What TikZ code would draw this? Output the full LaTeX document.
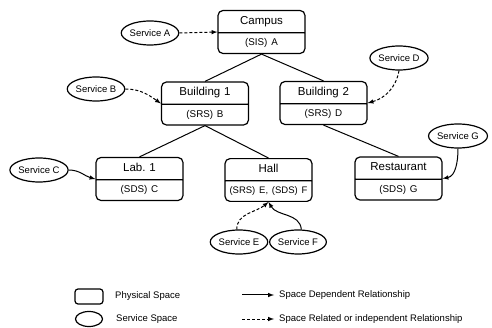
\documentclass[tikz,border=0pt]{standalone}
\usepackage{fontspec}
\setmainfont{Liberation Sans}
\usepackage{tikz}
\usetikzlibrary{shapes.geometric}
\usetikzlibrary{shapes.multipart}
\usetikzlibrary{arrows}
\usetikzlibrary{positioning}
\tikzstyle{spaceblock} = [rectangle split, rectangle split parts=2, rounded corners=5pt, draw=black,
line width=1.2pt, text width=83pt, align=center, inner xsep=2pt, inner ysep=5.25pt, text height=8pt,
text depth=2.5pt, font=\fontsize{11.5}{13}\selectfont]
\tikzstyle{serviceblock} = [ellipse, draw=black, line width=1.2pt, minimum width=53pt, minimum height=24pt,
inner sep=0pt, font=\fontsize{9.5}{11}\selectfont]
\tikzstyle{tree} = [line width=1pt]
\tikzstyle{arrow} = [line width=1pt,->,>=latex]
\tikzstyle{dasharrow} = [arrow, dash pattern=on 3pt off 2pt]
\tikzstyle{legendtext} = [anchor=west, inner sep=0pt, font=\fontsize{9.5}{11}\selectfont]

\begin{document}
\begin{tikzpicture}[x=1pt,y=-1pt]
  \useasboundingbox (0,0) rectangle (492,328);
  % physical spaces
  \node (campus) [spaceblock] at (261.5,32) {Campus \nodepart{two} \fontsize{9.8}{11}\selectfont (SIS) A};
  \node (bldg1) [spaceblock] at (205,103.5) {Building 1 \nodepart{two} \fontsize{9.8}{11}\selectfont (SRS) B};
  \node (bldg2) [spaceblock] at (323.5,103) {Building 2 \nodepart{two} \fontsize{9.8}{11}\selectfont (SRS) D};
  \node (lab1) [spaceblock] at (139.5,179) {Lab.\ 1 \nodepart{two} \fontsize{9.8}{11}\selectfont (SDS) C};
  \node (hall) [spaceblock] at (268.5,180) {Hall \nodepart{two} \fontsize{9.5}{11}\selectfont (SRS) E, (SDS) F};
  \node (rest) [spaceblock] at (398.5,178.5) {Restaurant \nodepart{two} \fontsize{9.8}{11}\selectfont (SDS) G};
  % service spaces
  \node (servA) [serviceblock] at (150,33) {Service A};
  \node (servB) [serviceblock] at (96,89) {Service B};
  \node (servC) [serviceblock] at (39,170) {Service C};
  \node (servD) [serviceblock] at (399,58) {Service D};
  \node (servG) [serviceblock] at (458,136) {Service G};
  \node (servE) [serviceblock] at (239,242) {Service E};
  \node (servF) [serviceblock] at (298,242) {Service F};
  \draw [tree] (campus.south) -- (bldg1.north);
  \draw [tree] (campus.south) -- (bldg2.north);
  \draw [tree] (bldg1.south) -- (lab1.north);
  \draw [tree] (bldg1.south) -- (hall.north);
  \draw [tree] (bldg2.south) -- (rest.north);
  \draw [dasharrow] (servA.east) -- (campus.west);
  \draw [dasharrow] (servB.east) to[out=0,in=145] (bldg1.west);
  \draw [dasharrow] (servD.south) to[out=-100,in=15] (bldg2.east);
  \draw [arrow] (servC.east) to[out=0,in=165] (lab1.west);
  \draw [arrow] (servG.south) to[out=-90,in=10] (rest.east);
  \draw [dasharrow] (servE.100) to[out=90,in=-140] (hall.south);
  \draw [arrow] (servF.75) to[out=95,in=-60] (hall.south);
  % legend
  \node (physlegend) [rectangle, rounded corners=3pt, draw=black, line width=1.2pt, minimum width=28pt,
  minimum height=15pt] at (89,296.5) {};
  \node (servlegend) [ellipse, draw=black, line width=1.2pt, minimum width=27pt, minimum height=15pt]
  at (89,319) {};
  \node (physlabel) [legendtext] at (115,296.5) {Physical Space};
  \node (servlabel) [legendtext] at (116,319) {Service Space};
  \coordinate (solidstart) at (242,295);
  \coordinate (solidend) at (274,295);
  \coordinate (dashstart) at (242,319);
  \coordinate (dashend) at (274,319);
  \draw [arrow] (solidstart) -- (solidend);
  \draw [dasharrow] (dashstart) -- (dashend);
  \node (deplabel) [legendtext] at (279,295) {Space Dependent Relationship};
  \node (rellabel) [legendtext] at (279,319) {Space Related or independent Relationship};
\end{tikzpicture}
\end{document}
